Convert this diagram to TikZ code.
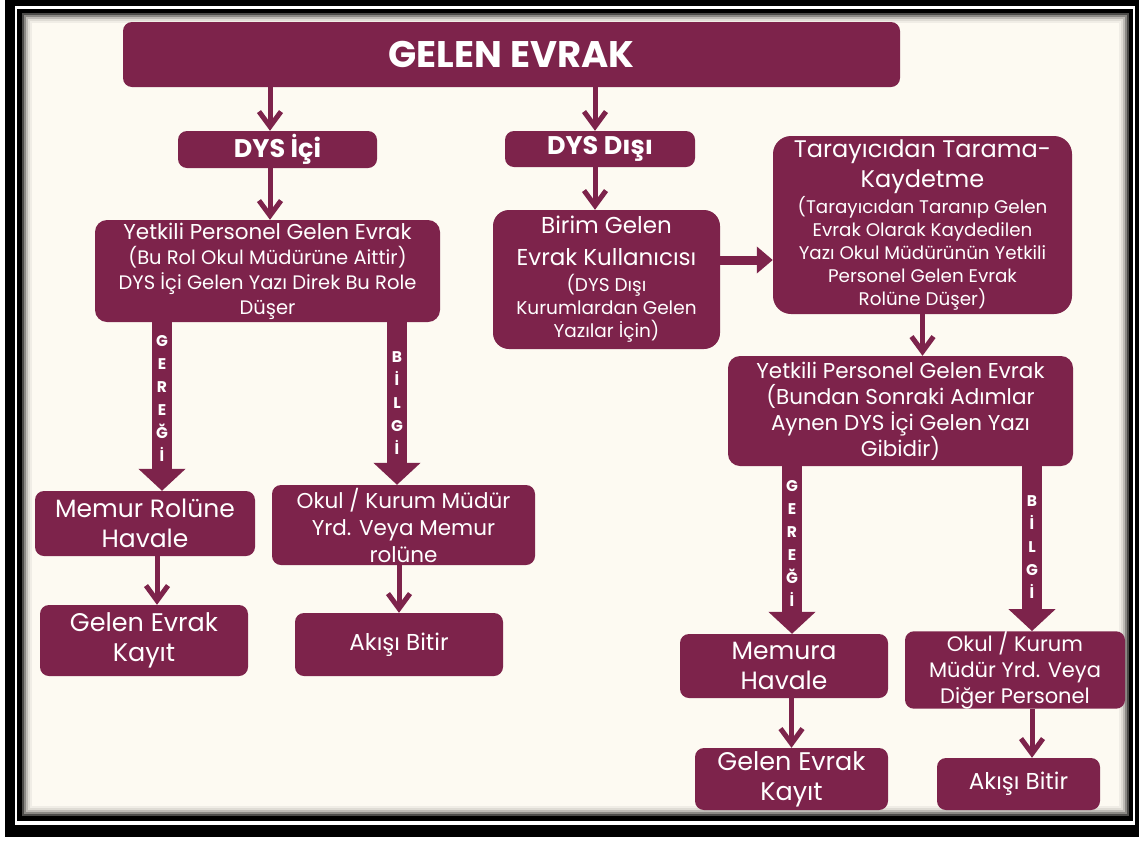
\documentclass[tikz,border=0pt]{standalone}
\usepackage{fontspec}
\setmainfont{Poppins}
\usetikzlibrary{arrows.meta,positioning,calc}
\definecolor{evrakMaroon}{RGB}{125,35,75}
\definecolor{evrakCream}{RGB}{253,250,242}

\begin{document}
\begin{tikzpicture}[x=1pt, y=-1pt,
    box/.style={rectangle, rounded corners=9pt, fill=evrakMaroon, text=white,
                align=center, inner sep=0pt},
    head/.style={box, font=\fontsize{25.5}{30}\selectfont\bfseries},
    arr/.style={-{Straight Barb[length=15pt,width=22pt]}, evrakMaroon, line width=5pt},
    wide/.style={-{Triangle[length=16pt,width=26pt]}, evrakMaroon, line width=9pt},
    flow/.style={-{Triangle[length=22pt,width=46pt]}, evrakMaroon, line width=20pt},
    tag/.style={text=white, font=\fontsize{15.5}{23}\selectfont\bfseries,
                align=center, inner sep=0pt}
  ]
  \useasboundingbox (0,0) rectangle (1146,841);
  % frame
  \fill[white] (0,0) rectangle (1146,841);
  \fill[black] (5,0) rectangle (1139,837);
  \fill[white] (15,6) rectangle (1135,825);
  \fill[black] (17,9) rectangle (1133,821);
  \fill[evrakCream] (22,13) rectangle (1129,816);
  \foreach \d/\c in {0/70,2/45,4/25,6/12,8/5}
    \draw[black!\c!evrakCream, line width=2pt] (23+\d,14+\d) rectangle (1128-\d,815-\d);

  \node[box, minimum width=777pt, minimum height=65pt,
        font=\fontsize{37}{44}\selectfont\bfseries] (title) at (511.5,54.5) {GELEN EVRAK};

  \node[head, minimum width=199pt, minimum height=37pt] (dysici) at (277.5,149.5) {DYS İçi};
  \node[head, minimum width=190pt, minimum height=36pt] (dysdisi) at (600,149) {DYS Dışı};

  \node[box, rounded corners=12pt, minimum width=345pt, minimum height=102pt,
        font=\fontsize{19.5}{25}\selectfont] (yetkiliL) at (267.5,271)
       {\fontsize{21.5}{25}\selectfont Yetkili Personel Gelen Evrak\\
        (Bu Rol Okul Müdürüne Aittir)\\
        DYS İçi Gelen Yazı Direk Bu Role\\ Düşer};

  \node[box, rounded corners=16pt, minimum width=227pt, minimum height=139pt,
        font=\fontsize{18.5}{23}\selectfont] (birim) at (606.5,279.5)
       {\fontsize{23}{23}\selectfont Birim Gelen\\[9pt]
        \fontsize{23}{23}\selectfont Evrak Kullanıcısı\\[3pt]
        (DYS Dışı\\ Kurumlardan Gelen\\ Yazılar İçin)};

  \node[box, rounded corners=18pt, minimum width=299pt, minimum height=178pt,
        font=\fontsize{18.3}{23}\selectfont] (tarayici) at (922.5,225)
       {\fontsize{24}{23}\selectfont Tarayıcıdan Tarama-\\[5pt]
        \fontsize{24}{23}\selectfont Kaydetme\\[1pt]
        (Tarayıcıdan Taranıp Gelen\\ Evrak Olarak  Kaydedilen\\
        Yazı Okul Müdürünün Yetkili\\ Personel Gelen Evrak\\ Rolüne Düşer)};

  \node[box, rounded corners=12pt, minimum width=345pt, minimum height=110pt,
        font=\fontsize{21.5}{26}\selectfont] (yetkiliR) at (900.5,411)
       {Yetkili Personel Gelen Evrak\\ (Bundan Sonraki Adımlar\\
        Aynen DYS İçi Gelen Yazı\\ Gibidir)};

  \node[box, minimum width=220pt, minimum height=65pt,
        font=\fontsize{25}{30}\selectfont] (memurL) at (145,523.5) {Memur Rolüne\\ Havale};
  \node[box, minimum width=263pt, minimum height=80pt,
        font=\fontsize{21.5}{27}\selectfont] (okulL) at (403.5,525)
       {Okul / Kurum Müdür\\ Yrd. Veya Memur\\ rolüne};
  \node[box, minimum width=208pt, minimum height=71pt,
        font=\fontsize{25.5}{30}\selectfont] (kayitL) at (144,640.5) {Gelen Evrak\\ Kayıt};
  \node[box, minimum width=208pt, minimum height=63pt,
        font=\fontsize{23}{30}\selectfont] (bitirL) at (399,644.5) {Akışı Bitir};

  \node[box, minimum width=208pt, minimum height=64pt,
        font=\fontsize{25}{30}\selectfont] (memuraR) at (784,666) {Memura\\ Havale};
  \node[box, minimum width=220pt, minimum height=76pt,
        font=\fontsize{21}{26}\selectfont] (okulR) at (1015,670)
       {Okul / Kurum\\ Müdür Yrd. Veya\\ Diğer Personel};
  \node[box, minimum width=193pt, minimum height=62pt,
        font=\fontsize{25.5}{30}\selectfont] (kayitR) at (791.5,779) {Gelen Evrak\\ Kayıt};
  \node[box, minimum width=163pt, minimum height=52pt,
        font=\fontsize{23}{30}\selectfont] (bitirR) at (1018.5,784) {Akışı Bitir};

  % connectors
  \draw[arr] ([xshift=-7.5pt]dysici.north |- title.south) -- ([xshift=-7.5pt]dysici.north);
  \draw[arr] ([xshift=-5pt]dysdisi.north |- title.south) -- ([xshift=-5pt]dysdisi.north);
  \draw[arr] ([xshift=-7.5pt]dysici.south) -- ([xshift=-7.5pt]dysici.south |- yetkiliL.north);
  \draw[arr] ([xshift=-5pt]dysdisi.south) -- ([xshift=-5pt]dysdisi.south |- birim.north);
  \draw[wide] ([yshift=19.5pt]birim.east) -- ([yshift=19.5pt]birim.east -| tarayici.west);
  \draw[arr] (tarayici.south) -- (tarayici.south |- yetkiliR.north);

  \draw[flow] ([xshift=17pt]memurL.north |- yetkiliL.south) -- ([xshift=17pt]memurL.north)
    node[tag, pos=0.45] {G\\E\\R\\E\\Ğ\\İ};
  \draw[flow] ([xshift=-6.5pt]okulL.north |- yetkiliL.south) -- ([xshift=-6.5pt]okulL.north)
    node[tag, pos=0.5] {B\\İ\\L\\G\\İ};
  \draw[flow] ([xshift=8pt]memuraR.north |- yetkiliR.south) -- ([xshift=8pt]memuraR.north)
    node[tag, pos=0.46] {G\\E\\R\\E\\Ğ\\İ};
  \draw[flow] ([xshift=17pt]okulR.north |- yetkiliR.south) -- ([xshift=17pt]okulR.north)
    node[tag, pos=0.49] {B\\İ\\L\\G\\İ};

  \draw[arr] ([xshift=12pt]memurL.south) -- ([xshift=12pt]memurL.south |- kayitL.north);
  \draw[arr] (bitirL.north |- okulL.south) -- (bitirL.north);
  \draw[arr] (kayitR.north |- memuraR.south) -- (kayitR.north);
  \draw[arr] ([xshift=13.5pt]bitirR.north |- okulR.south) -- ([xshift=13.5pt]bitirR.north);
\end{tikzpicture}
\end{document}
